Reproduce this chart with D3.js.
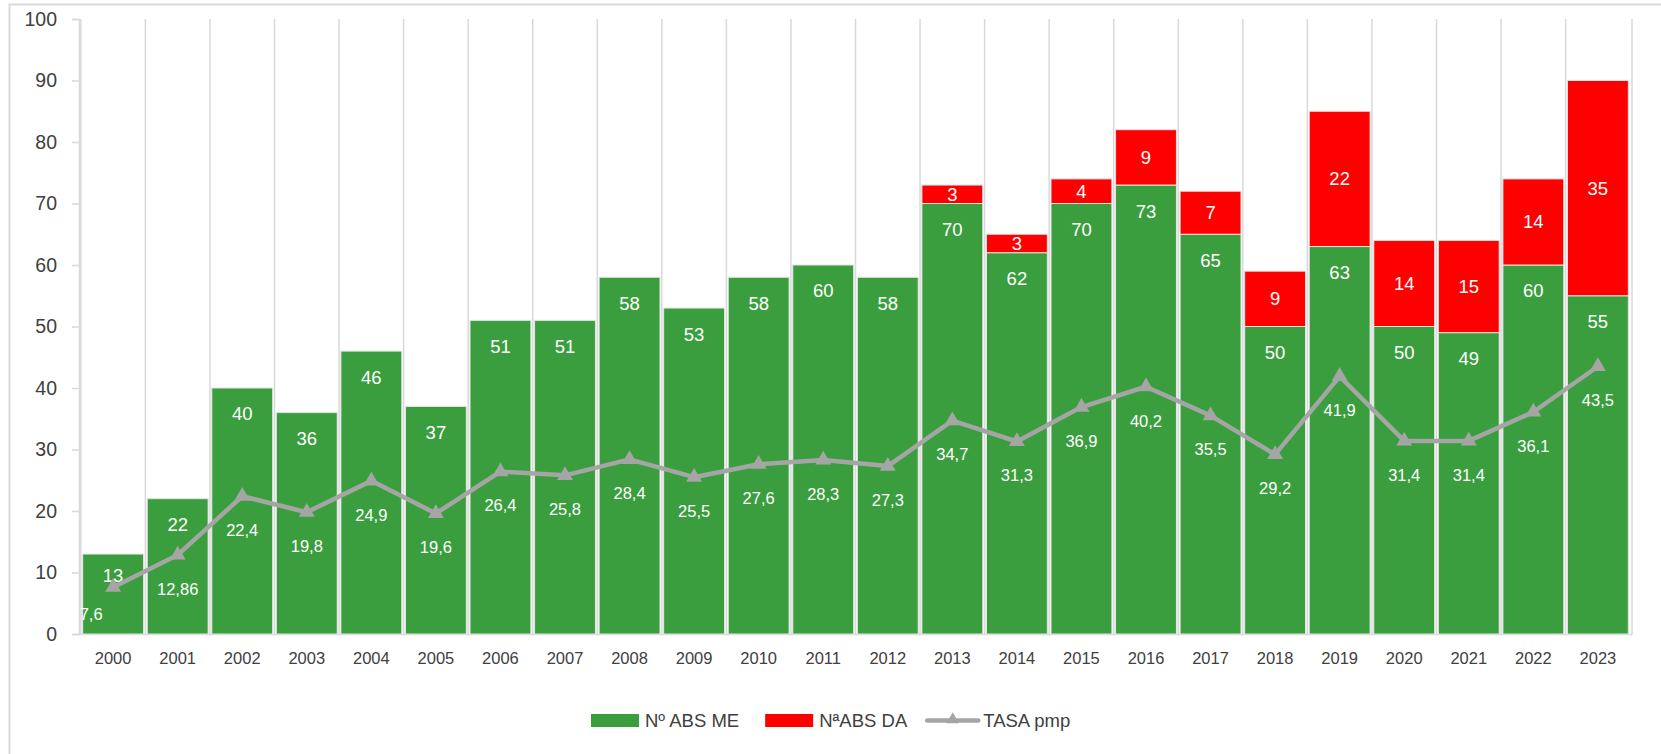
<!DOCTYPE html>
<html lang="es">
<head>
<meta charset="utf-8">
<script src="https://d3js.org/d3.v7.min.js"></script>
<style>
  body { margin: 0; background: #fff; }
  svg { display: block; font-family: "Liberation Sans", Arial, sans-serif; }
</style>
</head>
<body>
<svg id="chart" width="1661" height="754"></svg>
<script>
// chart data
const years = ['2000', '2001', '2002', '2003', '2004', '2005', '2006', '2007', '2008', '2009', '2010', '2011',
  '2012', '2013', '2014', '2015', '2016', '2017', '2018', '2019', '2020', '2021', '2022', '2023'];
const absME = [13, 22, 40, 36, 46, 37, 51, 51, 58, 53, 58, 60, 58, 70, 62, 70, 73, 65, 50, 63, 50, 49, 60, 55];
const absDA = [0, 0, 0, 0, 0, 0, 0, 0, 0, 0, 0, 0, 0, 3, 3, 4, 9, 7, 9, 22, 14, 15, 14, 35];
const tasa = [7.6, 12.86, 22.4, 19.8, 24.9, 19.6, 26.4, 25.8, 28.4, 25.5, 27.6, 28.3, 27.3, 34.7, 31.3, 36.9,
  40.2, 35.5, 29.2, 41.9, 31.4, 31.4, 36.1, 43.5];
const yTicks = [0, 10, 20, 30, 40, 50, 60, 70, 80, 90, 100];
const legendNames = ['Nº ABS ME', 'NªABS DA', 'TASA pmp'];

const GREEN = '#3a9e3e', RED = '#ff0000', GREY = '#a5a5a5', LINE = '#d9d9d9', TEXT = '#404040';
const fmt = v => String(v).replace('.', ',');

const svg = d3.select('#chart');

// outer chart border (only left/top visible)
svg.append('rect')
  .attr('x', 9.5).attr('y', 4.5).attr('width', 1700).attr('height', 800)
  .attr('fill', 'none').attr('stroke', LINE).attr('stroke-width', 2);

const x = d3.scaleBand().domain(years).range([79, 1632]).padding(0.057);
const y = d3.scaleLinear().domain([0, 100]).range([634, 19]);
const half = x.step() * x.padding() / 2;

// vertical gridlines between categories
const grid = svg.append('g');
years.forEach(d => {
  grid.append('line')
    .attr('x1', x(d) - half).attr('x2', x(d) - half)
    .attr('y1', y(100)).attr('y2', y(0))
    .attr('stroke', LINE).attr('stroke-width', 1.5);
});
grid.append('line')
  .attr('x1', x.range()[1]).attr('x2', x.range()[1])
  .attr('y1', y(100)).attr('y2', y(0))
  .attr('stroke', LINE).attr('stroke-width', 1.5);

// y axis
const yAxis = svg.append('g')
  .attr('transform', 'translate(79,0)')
  .call(d3.axisLeft(y).tickValues(yTicks).tickSize(7).tickPadding(15));
yAxis.select('.domain').attr('stroke', LINE).attr('stroke-width', 1.5);
yAxis.selectAll('.tick line').attr('stroke', LINE).attr('stroke-width', 1.5);
yAxis.selectAll('.tick text').attr('fill', TEXT).style('font-size', '19.5px')
  .style('font-family', '"Liberation Sans", Arial, sans-serif');

// x axis
const xAxis = svg.append('g')
  .attr('transform', 'translate(0,634)')
  .call(d3.axisBottom(x).tickSize(0).tickPadding(18));
xAxis.select('.domain').attr('stroke', LINE).attr('stroke-width', 1.5);
xAxis.selectAll('.tick text').attr('fill', TEXT).style('font-size', '16.5px')
  .style('font-family', '"Liberation Sans", Arial, sans-serif');

// stacked bars
const stackData = years.map((d, i) => ({ year: d, me: absME[i], da: absDA[i] }));
const series = d3.stack().keys(['me', 'da'])(stackData);
const colors = { me: GREEN, da: RED };

series.forEach(s => {
  svg.append('g').selectAll('rect')
    .data(s.filter(p => p[1] > p[0]))
    .join('rect')
    .attr('x', p => x(p.data.year))
    .attr('width', x.bandwidth())
    .attr('y', p => y(p[1]))
    .attr('height', p => y(p[0]) - y(p[1]))
    .attr('fill', colors[s.key])
    .attr('stroke', '#e4e4e4')
    .attr('stroke-width', 1);
});

// bar labels: green inside end, red centered
const labels = svg.append('g')
  .attr('fill', '#fff')
  .attr('text-anchor', 'middle')
  .style('font-size', '18.5px');

series[0].forEach(p => {
  const h = y(p[0]) - y(p[1]);
  labels.append('text')
    .attr('x', x(p.data.year) + x.bandwidth() / 2)
    .attr('y', y(p[1]) + Math.min(26, h * 0.27))
    .attr('dy', '0.35em')
    .text(p.data.me);
});
series[1].filter(p => p[1] > p[0]).forEach(p => {
  labels.append('text')
    .attr('x', x(p.data.year) + x.bandwidth() / 2)
    .attr('y', (y(p[0]) + y(p[1])) / 2)
    .attr('dy', '0.35em')
    .text(p.data.da);
});

// rate line with triangle markers
const cx = d => x(d) + x.bandwidth() / 2;
const line = d3.line().x((v, i) => cx(years[i])).y(v => y(v));
svg.append('path')
  .datum(tasa)
  .attr('d', line)
  .attr('fill', 'none')
  .attr('stroke', GREY)
  .attr('stroke-width', 4.5)
  .attr('stroke-linejoin', 'round');

const tri = d3.symbol().type(d3.symbolTriangle).size(110);
svg.append('g').selectAll('path')
  .data(tasa)
  .join('path')
  .attr('d', tri)
  .attr('transform', (v, i) => `translate(${cx(years[i])},${y(v)})`)
  .attr('fill', GREY);

svg.append('g')
  .attr('fill', '#fff')
  .attr('text-anchor', 'middle')
  .style('font-size', '16.5px')
  .selectAll('text')
  .data(tasa)
  .join('text')
  .attr('x', (v, i) => cx(years[i]) + (i === 0 ? -22 : 0))
  .attr('y', (v, i) => y(v) + (i === 0 ? 27 : 34))
  .attr('dy', '0.35em')
  .text(v => fmt(v));

// legend
const legend = svg.append('g').attr('transform', 'translate(591,720.5)');
let lx = 0;
legendNames.forEach((name, i) => {
  if (i < 2) {
    legend.append('rect')
      .attr('x', lx).attr('y', -6.5).attr('width', 48).attr('height', 13)
      .attr('fill', i === 0 ? GREEN : RED);
    lx += 54;
  } else {
    legend.append('line')
      .attr('x1', lx).attr('x2', lx + 51).attr('y1', 0).attr('y2', 0)
      .attr('stroke', GREY).attr('stroke-width', 4.5).attr('stroke-linecap', 'round');
    legend.append('path')
      .attr('d', d3.symbol().type(d3.symbolTriangle).size(70))
      .attr('transform', `translate(${lx + 25.5},-1)`)
      .attr('fill', GREY);
    lx += 56;
  }
  const t = legend.append('text')
    .attr('x', lx).attr('y', 0).attr('dy', '0.35em')
    .attr('fill', TEXT)
    .style('font-size', '18.5px')
    .text(name);
  lx += t.node().getComputedTextLength() + (i === 0 ? 26 : 20);
});
</script>
</body>
</html>
